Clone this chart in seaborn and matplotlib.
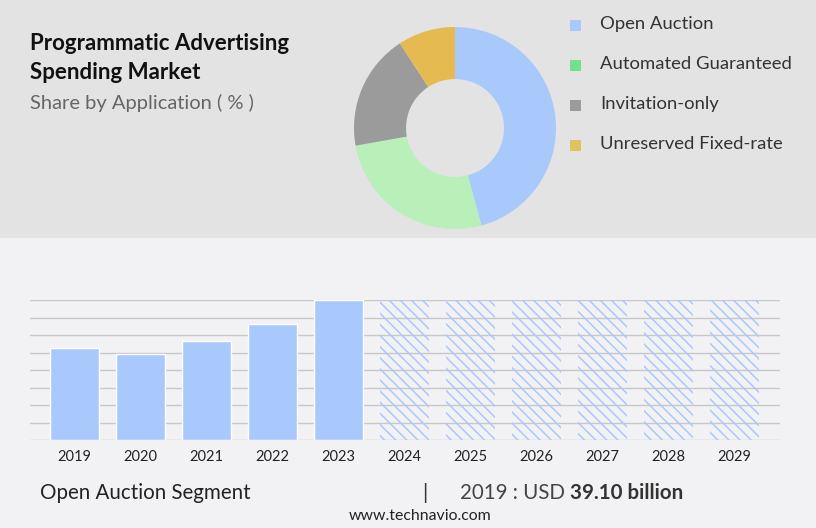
import numpy as np
import pandas as pd
import matplotlib
matplotlib.use('Agg')
import matplotlib.pyplot as plt
from matplotlib.patches import Rectangle
import seaborn as sns

# donut data (share by application, %)
segments = ['Open Auction', 'Automated Guaranteed', 'Invitation-only', 'Unreserved Fixed-rate']
shares = [45.8, 26.4, 18.6, 9.2]
pie_colors = ['#a9c9fd', '#b9efb9', '#9b9b9b', '#e5bb51']
legend_colors = ['#a9c9fd', '#6fe191', '#9b9b9b', '#dcc65c']

# bar data (Open Auction segment, USD billion)
years = ['2019', '2020', '2021', '2022', '2023', '2024', '2025', '2026', '2027', '2028', '2029']
values = [39.10, 36.6, 42.1, 49.3, 59.3, 59.3, 59.3, 59.3, 59.3, 59.3, 59.3]
forecast = [False] * 5 + [True] * 6

W, H = 816, 528
sns.set_theme(style='white')
plt.rcParams['font.family'] = ['Lato', 'DejaVu Sans']
plt.rcParams['hatch.linewidth'] = 1.1

fig = plt.figure(figsize=(W / 100, H / 100), dpi=100)
fig.patch.set_facecolor('#f2f2f4')
fig.patches.append(Rectangle((0, (H - 238) / H), 1, 238 / H, transform=fig.transFigure,
                             facecolor='#e3e3e3', edgecolor='none', zorder=-5))

def fx(px):
    return px / W

def fy(py):
    return 1 - py / H

# titles
fig.text(fx(30), fy(43), 'Programmatic Advertising', fontsize=16, fontweight='bold',
         color='#111111', va='center')
fig.text(fx(30), fy(73), 'Spending Market', fontsize=16, fontweight='bold',
         color='#111111', va='center')
fig.text(fx(30), fy(103), 'Share by Application ( % )', fontsize=14.5, color='#666666', va='center')

# donut
ax_pie = fig.add_axes([fx(354), fy(228), 202 / W, 201 / H], zorder=2)
ax_pie.pie(shares, colors=pie_colors, startangle=90, counterclock=False,
           radius=1, wedgeprops=dict(width=0.515, edgecolor='none'))
ax_pie.set_xlim(-1, 1)
ax_pie.set_ylim(-0.99, 1.0)
ax_pie.set_aspect('auto')
ax_pie.axis('off')

# legend
for i, (name, c) in enumerate(zip(segments, legend_colors)):
    y = 24 + 40 * i
    fig.patches.append(Rectangle((fx(570), fy(y + 7)), 11 / W, 11 / H, transform=fig.transFigure,
                                 facecolor=c, edgecolor='none', zorder=3))
    fig.text(fx(600), fy(y), name, fontsize=13.3, color='#333333', va='center')

# bars
df = pd.DataFrame({'year': years, 'value': values, 'forecast': forecast})
ax = fig.add_axes([fx(30), fy(440), 750 / W, 140 / H], zorder=2)
ax.set_facecolor('none')
sns.barplot(data=df, x='year', y='value', color='#a9c9fd', width=0.74, saturation=1, ax=ax)
for patch, fc in zip(ax.patches, df['forecast']):
    if fc:
        patch.set_facecolor('none')
        patch.set_edgecolor('#a9c9fd')
        patch.set_hatch('\\\\\\')
        patch.set_linewidth(0)
ax.set_xlim(-0.674, 10.69)
ax.set_ylim(0, 59.3)
ax.set_yticks(np.linspace(0, 59.3, 9))
ax.yaxis.grid(True, color='#c8c8c8', linewidth=1)
ax.set_axisbelow(True)
ax.set_yticklabels([])
ax.tick_params(axis='y', length=0)
ax.tick_params(axis='x', length=0, pad=7, labelsize=10.5, labelcolor='#222222')
ax.set_xlabel('')
ax.set_ylabel('')
for s in ax.spines.values():
    s.set_visible(False)

# footer
fig.text(fx(40), fy(493), 'Open Auction Segment', fontsize=14.8, color='#222222', va='center')
fig.text(fx(422), fy(493), '|', fontsize=15, color='#333333', va='center')
fig.text(fx(460), fy(493), '2019 : USD ', fontsize=14.8, color='#444444', va='center')
fig.text(fx(570), fy(493), '39.10 billion', fontsize=14.8, fontweight='bold', color='#333333', va='center')
fig.text(fx(420), fy(516), 'www.technavio.com', fontsize=11.4, color='#222222', va='center', ha='center')

fig.savefig('out.png', dpi=100, facecolor=fig.get_facecolor())
